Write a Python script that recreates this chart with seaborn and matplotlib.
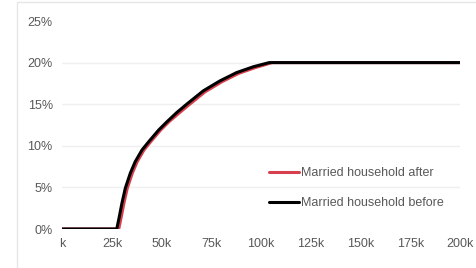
import matplotlib
matplotlib.use("Agg")
import matplotlib.pyplot as plt
import seaborn as sns
import pandas as pd
from matplotlib.patches import Rectangle

# income in thousands, rate in percent
after_x = [0, 28.3, 29.6, 30.9, 32.6, 35.1, 37.6, 41.0, 44.4, 49.4, 53.6, 58.5, 63.5, 71.8, 80.2, 88.6, 97.0, 105.5, 200]
after_y = [0, 0.0, 1.5, 3.1, 4.9, 6.7, 8.1, 9.5, 10.5, 11.9, 12.9, 13.9, 14.9, 16.5, 17.7, 18.7, 19.4, 20.0, 20.0]
before_x = [0, 27.3, 28.6, 29.9, 31.6, 34.1, 36.6, 40.0, 43.4, 48.4, 52.6, 57.5, 62.5, 70.8, 79.2, 87.6, 96.0, 104.0, 200]
before_y = [0, 0.0, 1.5, 3.1, 4.9, 6.7, 8.1, 9.5, 10.5, 11.9, 12.9, 14.0, 15.0, 16.6, 17.8, 18.8, 19.5, 20.0, 20.0]
x_ticks = [0, 25, 50, 75, 100, 125, 150, 175, 200]
x_labels = ["k", "25k", "50k", "75k", "100k", "125k", "150k", "175k", "200k"]
y_ticks = [0, 5, 10, 15, 20, 25]
y_labels = ["0%", "5%", "10%", "15%", "20%", "25%"]
series_names = ["Married household after", "Married household before"]
colors = ["#d6404c", "#000000"]

df = pd.concat([
    pd.DataFrame({"income": after_x, "rate": after_y, "series": series_names[0]}),
    pd.DataFrame({"income": before_x, "rate": before_y, "series": series_names[1]}),
])

sns.set_style("white")
plt.rcParams["font.family"] = ["Liberation Sans", "DejaVu Sans"]

W, H = 477, 268
fig = plt.figure(figsize=(W / 100, H / 100), dpi=100)
ax = fig.add_axes([62.5 / W, 39 / H, (460 - 62.5) / W, (229 - 21) / H])

fig.patches.append(Rectangle((17 / W, -0.1), 1.2, (H - 2) / H + 0.1,
                             transform=fig.transFigure, fill=False,
                             edgecolor="#e6e6e6", linewidth=1.0))

sns.lineplot(data=df, x="income", y="rate", hue="series", palette=colors,
             hue_order=series_names, linewidth=2.2, ax=ax, sort=False,
             estimator=None)
for ln in ax.get_lines():
    ln.set_solid_joinstyle("round")

ax.set_xlim(0, 200)
ax.set_ylim(0, 25)
ax.set_xticks(x_ticks)
ax.set_xticklabels(x_labels)
ax.set_yticks(y_ticks)
ax.set_yticklabels(y_labels)
ax.set_xlabel("")
ax.set_ylabel("")
for s in ax.spines.values():
    s.set_visible(False)
ax.tick_params(axis="both", length=0, labelsize=9, colors="#595959")
ax.tick_params(axis="y", pad=7)
ax.tick_params(axis="x", pad=6.5)
for yv in [5, 10, 15, 20]:
    ax.axhline(yv, color="#efefef", linewidth=1.0, zorder=0)

leg = ax.legend(loc="upper left", bbox_to_anchor=((264 - 62.5) / (460 - 62.5), (229 - 162) / 208),
                frameon=False, fontsize=9, handlelength=2.4, handletextpad=0.2,
                labelspacing=1.45, borderaxespad=0)
for t in leg.get_texts():
    t.set_color("#595959")
for l in leg.get_lines():
    l.set_linewidth(2.2)

fig.savefig("out.png", dpi=100)
